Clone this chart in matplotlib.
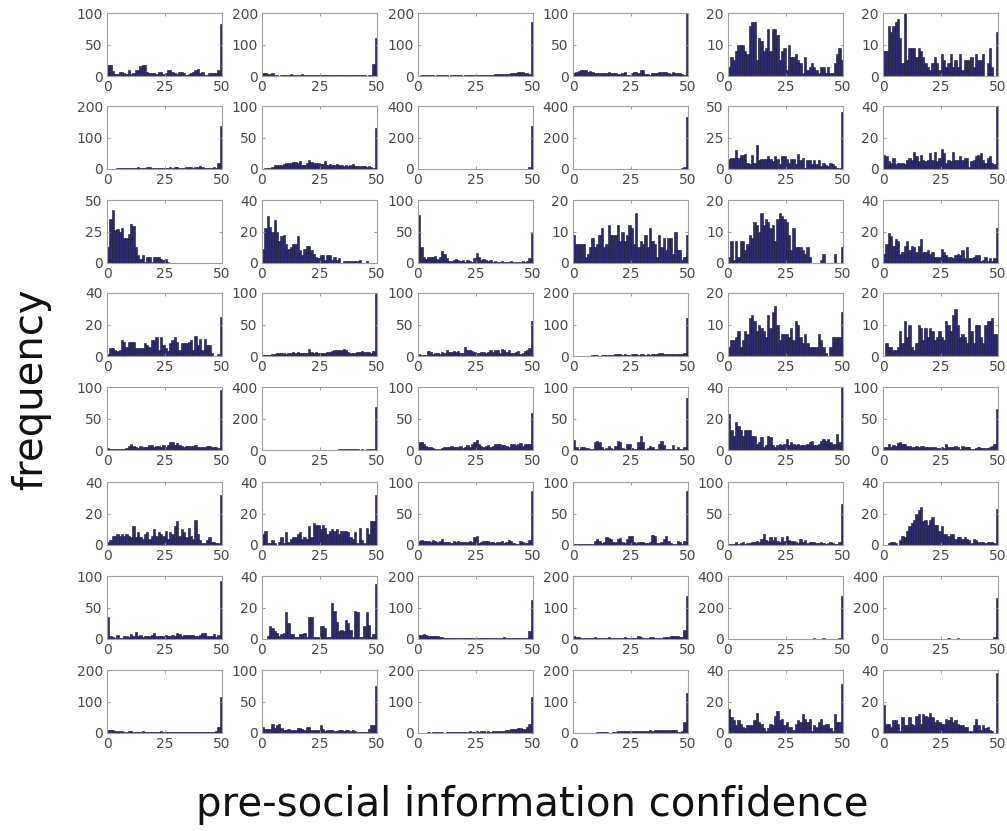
import numpy as np
import matplotlib.pyplot as plt

# counts per confidence bin (50 bins of width 1 over 0..50), one list per panel
r1c1 = [18,17,8,3,3,6,6,4,3,9, 3,4,9,10,16,17,17,6,5,4, 5,3,7,7,3,5,10,9,6,4, 3,6,6,4,2,3,5,6,10,11, 5,6,2,2,5,5,4,5,10,83]
r1c2 = [8,8,7,6,8,2,2,1,2,3, 4,4,5,4,3,2,3,6,2,2, 2,2,2,3,3,2,3,4,3,2, 2,2,3,3,3,2,2,3,4,4, 3,2,2,2,2,1,2,2,38,120]
r1c3 = [1,2,2,2,4,2,2,1,2,2, 3,2,2,1,2,3,2,2,3,1, 2,3,2,3,3,4,4,3,2,3, 3,3,4,5,6,5,6,7,6,7, 8,10,11,14,13,12,8,9,6,170]
r1c4 = [4,7,8,9,9,9,7,8,6,5, 4,5,5,4,5,6,5,5,4,3, 3,4,6,2,2,4,6,7,5,9, 10,3,3,2,4,4,5,6,7,7, 6,5,3,6,5,4,4,3,2,100]
r1c5 = [3,6,5,8,10,10,10,8,7,16, 17,17,5,12,11,8,9,15,8,15, 15,13,5,8,9,2,10,6,6,7, 5,4,1,6,2,3,4,3,2,1, 3,3,1,3,1,1,4,7,9,5]
r1c6 = [8,8,16,14,16,17,18,12,4,20, 5,9,9,9,6,9,8,6,4,3, 2,4,6,4,2,7,5,3,4,7, 3,5,3,7,2,5,5,5,6,3, 7,5,5,7,0,4,9,3,0,14]

r2c1 = [0,1,1,1,2,3,2,3,4,3, 4,4,3,5,4,3,4,5,6,4, 3,3,4,4,4,3,4,5,4,6, 5,3,3,4,5,6,5,4,5,6, 8,5,4,4,4,4,5,4,18,135]
r2c2 = [0,1,1,2,3,7,6,7,6,8, 10,10,9,11,11,10,13,7,7,9, 14,11,9,9,10,8,8,12,7,8, 7,7,8,7,6,5,7,5,6,8, 4,4,5,4,4,3,5,3,2,65]
r2c3 = [0,0,1,0,1,1,2,1,1,2, 2,1,2,2,1,2,3,2,2,1, 1,2,1,2,1,1,2,2,1,2, 1,2,1,2,2,2,1,2,1,2, 2,1,2,1,2,2,1,2,10,270]
r2c4 = [0,0,0,0,0,0,0,0,0,0, 0,0,0,0,0,0,0,0,0,0, 0,0,0,0,0,0,0,0,0,0, 0,0,0,0,0,0,0,0,1,0, 1,1,1,2,3,2,3,5,12,330]
r2c5 = [8,9,9,15,9,11,11,12,5,4, 11,5,19,7,8,8,8,10,8,6, 10,8,4,10,10,8,5,8,8,4, 12,7,9,1,7,7,4,7,4,7, 2,5,3,2,5,4,2,1,1,45]
r2c6 = [9,8,5,4,7,3,4,4,4,3, 6,7,6,11,8,5,9,6,5,6, 10,6,11,5,7,13,10,4,6,5, 11,6,6,8,6,7,7,1,5,6, 8,9,10,6,4,7,8,4,3,40]

r3c1 = [13,35,42,26,27,25,28,20,20,23, 31,29,13,6,3,6,1,5,5,1, 5,5,5,3,2,3,1,0,0,0, 0,0,0,0,0,0,0,0,0,0, 0,0,0,0,0,0,0,0,0,0]
r3c2 = [9,22,30,23,20,27,20,14,17,18, 12,9,10,12,12,17,8,5,9,11, 11,8,6,4,3,5,5,2,5,5, 2,4,2,3,0,1,1,1,1,1, 1,1,2,0,0,1,0,0,0,0]
r3c3 = [76,25,9,6,9,10,9,11,6,10, 19,15,8,3,3,5,6,4,3,4, 2,4,3,2,8,16,9,5,6,4, 3,5,2,3,1,2,3,1,2,1, 3,2,1,2,2,3,2,3,8,48]
r3c4 = [9,6,6,6,6,2,3,5,8,5, 6,9,11,5,6,12,9,9,9,12, 7,10,7,9,12,11,6,16,5,7, 6,9,5,11,7,6,2,9,5,8, 4,8,8,3,10,4,4,1,2,9]
r3c5 = [2,7,1,7,2,7,7,4,6,9, 8,13,12,10,16,12,14,13,11,12, 7,14,16,15,14,13,9,4,11,5, 5,5,4,3,5,2,0,0,0,0, 1,3,0,0,0,0,3,0,0,5]
r3c6 = [6,12,19,17,11,15,14,6,7,11, 14,8,11,10,7,11,15,7,7,8, 6,7,4,4,4,9,7,5,4,4, 3,5,6,5,8,3,10,3,3,4, 5,5,1,2,4,1,3,1,3,22]

r4c1 = [1,5,5,4,3,4,10,9,6,9, 9,9,5,5,5,5,8,7,6,10, 10,12,4,12,7,5,3,8,10,12, 9,4,8,8,8,9,10,4,13,7, 11,4,11,7,7,2,0,0,1,25]
r4c2 = [1,1,1,2,3,3,4,4,4,4, 3,4,5,6,5,6,5,5,4,5, 11,6,5,6,4,5,4,5,6,7, 8,9,10,9,10,11,10,7,5,4, 5,6,7,8,7,6,6,5,8,100]
r4c3 = [3,2,1,1,8,6,3,5,4,3, 6,5,10,7,6,8,7,8,5,4, 14,9,10,8,6,5,4,6,7,5, 7,10,6,10,10,4,11,10,7,9, 5,4,7,8,3,5,8,9,12,55]
r4c4 = [0,0,0,0,1,0,1,1,2,3, 2,1,3,2,3,2,3,4,5,6, 5,4,5,4,4,5,6,5,4,6, 5,4,5,4,6,5,7,10,8,5, 5,6,5,6,5,7,6,5,8,122]
r4c5 = [3,5,5,6,8,3,5,8,7,12, 13,11,8,10,9,8,6,13,9,14, 16,10,5,7,7,7,6,9,5,11, 10,6,4,7,4,3,3,3,3,7, 5,3,1,0,3,6,6,6,6,14]
r4c6 = [0,4,3,3,2,2,3,8,4,11, 6,10,3,2,4,10,9,5,9,6, 9,8,5,6,8,6,5,11,10,8, 13,15,10,6,7,6,4,12,8,4, 10,10,6,4,10,11,11,12,7,7]

r5c1 = [3,2,1,1,2,1,1,2,3,7, 9,7,4,3,6,5,5,5,8,8, 4,7,7,4,8,5,8,12,12,8, 11,8,6,4,6,6,6,6,8,4, 5,4,4,7,6,5,4,4,3,95]
r5c2 = [1,1,1,1,1,1,1,1,1,1, 1,1,1,1,1,2,1,1,2,1, 1,2,2,2,2,2,2,2,3,2, 2,3,3,4,4,5,5,7,6,5, 4,4,3,4,3,4,5,4,8,270]
r5c3 = [13,12,9,7,5,5,3,1,1,2, 3,4,5,5,6,4,5,4,6,3, 5,8,5,9,13,16,10,6,5,6, 8,4,6,10,9,9,8,8,6,5, 9,9,8,10,11,7,9,9,10,58]
r5c4 = [16,5,2,4,4,3,3,1,1,13, 14,13,4,2,3,6,3,2,7,15, 12,3,2,9,9,3,2,2,13,22, 12,2,3,6,4,2,2,9,14,8, 2,2,1,8,2,4,2,1,4,83]
r5c5 = [23,13,9,18,15,13,9,13,13,13, 9,9,4,5,8,2,3,9,8,3, 2,3,4,3,4,7,3,5,4,3, 4,3,3,3,4,5,6,3,3,4, 6,7,6,7,5,4,4,10,5,40]
r5c6 = [4,4,10,5,8,7,11,12,9,10, 7,6,5,4,6,4,6,6,5,4, 4,5,4,3,3,5,3,10,4,4, 5,6,4,2,6,5,4,5,2,2, 3,4,3,3,3,3,4,7,10,65]

r6c1 = [2,3,6,6,7,6,7,6,7,6, 5,12,5,8,5,4,7,8,4,6, 10,6,8,7,6,9,4,8,7,12, 15,6,10,8,5,11,6,4,16,7, 3,1,1,3,5,2,2,1,1,32]
r6c2 = [7,9,1,1,3,1,0,2,5,1, 8,2,4,5,5,7,8,4,5,4, 12,5,14,13,13,10,13,11,7,9, 10,9,10,7,9,9,9,8,5,4, 8,1,11,3,1,11,7,15,15,32]
r6c3 = [6,8,7,7,6,5,8,7,5,6, 9,5,5,4,3,6,4,6,5,4, 4,5,6,5,13,14,3,4,6,7, 6,5,4,3,4,4,6,3,4,8, 6,3,2,1,6,5,3,3,8,85]
r6c4 = [2,1,1,1,1,2,2,2,2,7, 9,6,3,4,12,11,10,4,5,9, 11,4,3,10,14,15,4,3,5,5, 4,3,3,5,16,15,3,3,4,10, 15,6,3,2,2,6,5,2,7,85]
r6c5 = [1,1,2,4,2,3,4,2,3,3, 4,5,6,5,10,17,8,7,13,8, 12,7,5,13,7,15,8,7,6,5, 3,9,4,8,3,5,4,5,3,3, 4,3,2,3,4,3,2,1,5,65]
r6c6 = [0,0,1,2,2,1,0,3,6,5, 9,12,14,16,20,22,24,15,16,13, 16,18,13,13,9,12,7,7,6,7, 7,4,5,5,4,5,4,3,1,4, 3,2,2,2,1,2,2,2,1,23]

r7c1 = [35,5,3,2,6,1,1,4,4,3, 8,5,11,5,7,3,5,5,5,7, 10,5,5,5,5,6,5,5,7,5, 9,8,5,6,7,7,6,7,4,5, 6,9,9,5,5,4,8,3,6,92]
r7c2 = [0,0,2,8,7,5,4,2,3,4, 17,10,3,3,1,1,3,3,4,1, 14,14,1,1,1,8,8,7,1,1, 23,18,11,5,6,5,12,10,6,1, 18,17,1,1,8,17,9,1,3,35]
r7c3 = [12,14,15,13,10,9,9,8,9,7, 5,4,3,3,3,4,3,3,3,4, 3,3,3,3,3,3,3,2,3,2, 3,3,3,3,3,3,4,6,3,3, 3,4,4,4,3,4,4,3,25,125]
r7c4 = [8,7,5,4,4,3,3,3,4,7, 3,3,3,4,3,6,4,4,4,4, 3,3,5,3,3,4,3,4,8,5, 4,3,3,7,5,3,3,3,4,6, 5,6,8,9,8,11,7,5,30,135]
r7c5 = [1,1,1,1,1,1,1,1,1,1, 1,1,1,1,1,1,1,1,1,1, 1,1,1,1,1,1,1,1,2,2, 2,3,2,3,3,2,3,4,3,3, 3,4,3,3,2,2,3,2,8,275]
r7c6 = [1,1,1,2,1,2,3,2,1,2, 1,2,2,2,2,2,2,2,3,2, 2,2,3,2,3,3,2,3,4,3, 3,2,4,3,3,2,3,2,2,2, 2,2,1,2,2,1,2,2,15,260]

r8c1 = [8,9,8,6,6,5,5,4,4,5, 6,4,4,3,3,6,4,4,3,4, 4,3,3,5,3,4,3,4,4,3, 3,2,2,2,3,2,3,3,3,3, 3,3,2,2,2,2,4,6,18,115]
r8c2 = [10,7,6,6,15,8,13,14,8,5, 5,6,5,5,4,8,8,7,5,9, 10,4,4,5,5,13,6,3,4,4, 5,3,3,4,5,3,4,5,3,4, 3,2,1,1,1,1,6,13,13,75]
r8c3 = [1,1,1,1,2,1,2,3,2,3, 2,1,2,2,3,2,3,2,3,2, 3,4,5,3,4,5,4,5,6,4, 5,4,5,7,6,6,7,7,9,10, 13,12,13,15,16,14,14,18,30,115]
r8c4 = [0,0,0,0,0,0,0,0,0,1, 3,4,3,2,4,1,1,2,3,5, 6,5,6,5,6,6,6,7,7,6, 6,7,7,8,7,8,9,10,10,11, 11,11,10,11,10,4,2,5,35,128]
r8c5 = [15,10,8,5,8,6,4,3,5,5, 5,8,13,7,6,3,1,3,6,5, 11,14,8,9,5,7,4,4,2,6, 8,7,12,9,7,9,1,5,4,7, 9,5,6,6,3,1,12,7,7,31]
r8c6 = [18,6,6,4,8,8,6,1,10,5, 5,10,6,5,11,12,6,12,11,10, 13,10,7,8,7,6,6,9,8,10, 7,8,6,5,5,4,4,1,1,5, 9,5,2,5,3,4,2,1,0,38]

# y-axis upper limit for each panel, row by row
y_top = [[100, 200, 200, 100, 20, 20],
         [200, 100, 400, 400, 50, 40],
         [50, 40, 100, 20, 20, 40],
         [40, 100, 100, 200, 20, 20],
         [100, 400, 100, 100, 40, 100],
         [40, 40, 100, 100, 100, 40],
         [100, 40, 200, 200, 400, 400],
         [200, 100, 200, 200, 40, 40]]

panels = [[r1c1, r1c2, r1c3, r1c4, r1c5, r1c6],
          [r2c1, r2c2, r2c3, r2c4, r2c5, r2c6],
          [r3c1, r3c2, r3c3, r3c4, r3c5, r3c6],
          [r4c1, r4c2, r4c3, r4c4, r4c5, r4c6],
          [r5c1, r5c2, r5c3, r5c4, r5c5, r5c6],
          [r6c1, r6c2, r6c3, r6c4, r6c5, r6c6],
          [r7c1, r7c2, r7c3, r7c4, r7c5, r7c6],
          [r8c1, r8c2, r8c3, r8c4, r8c5, r8c6]]

W, H = 1007, 831
fig = plt.figure(figsize=(W / 100, H / 100), dpi=100)

col_left = [107, 262, 418, 573, 728, 883]
row_top = [13, 106, 200, 293, 387, 482, 576, 670]
ax_w, ax_h = 115, 63

for i, row in enumerate(panels):
    for j, counts in enumerate(row):
        ax = fig.add_axes([col_left[j] / W, 1 - (row_top[i] + ax_h) / H, ax_w / W, ax_h / H])
        edges = np.arange(len(counts) + 1)
        ax.bar(edges[:-1], counts, width=1, align='edge',
               color='#2f2b72', edgecolor='#17163a', linewidth=0.4)
        top = y_top[i][j]
        ax.set_xlim(0, 50)
        ax.set_ylim(0, top)
        ax.set_xticks([0, 25, 50])
        ax.set_yticks([0, top // 2, top])
        ax.tick_params(direction='in', length=2.5, width=0.6, top=True, right=True,
                       labelsize=10, labelcolor='#4a4a4a', color='#909090', pad=3)
        for s in ax.spines.values():
            s.set_color('#a0a0a0')
            s.set_linewidth(0.8)

fig.text(31 / W, 1 - 389 / H, 'frequency', rotation=90, fontsize=29,
         ha='center', va='center', color='#111111')
fig.text(532 / W, 1 - 805 / H, 'pre-social information confidence', fontsize=29,
         ha='center', va='center', color='#111111')

fig.savefig('out.png', dpi=100)
